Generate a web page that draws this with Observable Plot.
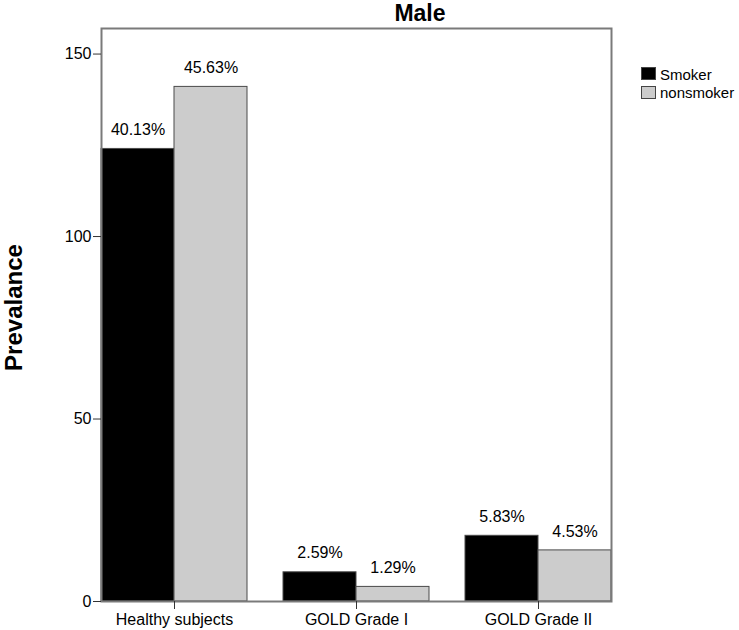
<!DOCTYPE html>
<html>
<head>
<meta charset="utf-8">
<script src="https://cdn.jsdelivr.net/npm/d3@7"></script>
<script src="https://cdn.jsdelivr.net/npm/@observablehq/plot@0.6"></script>
<style>
  html, body { margin: 0; padding: 0; background: #fff; }
  #wrap { position: relative; width: 739px; height: 630px; background: #fff; overflow: hidden;
          font-family: "Liberation Sans", Arial, sans-serif; color: #000; }
  #title { position: absolute; left: 320px; top: 0px; width: 200px; text-align: center;
           font-size: 23px; line-height: normal; font-weight: bold; }
  #ylabel { position: absolute; left: -87px; top: 294px; width: 200px; height: 27px; text-align: center;
            font-size: 24px; line-height: 27px; font-weight: bold; transform: rotate(-90deg); transform-origin: 50% 50%; }
  .sw { position: absolute; left: 641px; width: 15px; height: 13px; box-sizing: border-box; border: 1px solid #444; }
  .lt { position: absolute; left: 660px; font-size: 15px; line-height: 17px; white-space: nowrap; }
  #chart { position: absolute; left: 0; top: 0; }
</style>
</head>
<body>
<div id="wrap">
  <div id="chart"></div>
  <div id="title">Male</div>
  <div id="ylabel">Prevalance</div>
  <div class="sw" style="top:67px;background:#000;"></div>
  <div class="lt" style="top:66px;">Smoker</div>
  <div class="sw" style="top:86px;background:#cccccc;"></div>
  <div class="lt" style="top:84px;">nonsmoker</div>
</div>
<script>
const categories = ["Healthy subjects", "GOLD Grade I", "GOLD Grade II"];
const groups = ["Smoker", "nonsmoker"];
const smoker = [124, 8, 18];
const nonsmoker = [141, 4, 14];
const smokerPct = ["40.13%", "2.59%", "5.83%"];
const nonsmokerPct = ["45.63%", "1.29%", "4.53%"];
const yTicks = [0, 50, 100, 150];

const data = categories.flatMap((c, i) => [
  {category: c, group: groups[0], value: smoker[i], label: smokerPct[i]},
  {category: c, group: groups[1], value: nonsmoker[i], label: nonsmokerPct[i]}
]);

const chart = Plot.plot({
  width: 739,
  height: 630,
  marginLeft: 72,
  marginRight: 100,
  marginTop: 28,
  marginBottom: 29,
  style: {fontFamily: "'Liberation Sans', Arial, sans-serif", fontSize: "16px", color: "#000", background: "transparent", overflow: "visible"},
  fx: {domain: categories, paddingInner: 0.2, paddingOuter: 0.153, label: null},
  x: {domain: groups, padding: 0, axis: null},
  y: {domain: [0, 157], axis: null},
  color: {domain: groups, range: ["#000000", "#cccccc"]},
  marks: [
    Plot.barY(data, {fx: "category", x: "group", y: "value", fill: "group", stroke: "#4a4a4a", strokeWidth: 1}),
    Plot.text(data, {fx: "category", x: "group", y: "value", text: "label", dy: -19, fontSize: 16, fill: "#000"}),
    Plot.frame({facet: "super", stroke: "#7a7a7a", strokeWidth: 2}),
    Plot.axisY({ticks: yTicks, tickSize: 8, tickPadding: 2, label: null, fontSize: 16, stroke: "#333"}),
    Plot.axisFx({anchor: "bottom", tickSize: 8, tickPadding: 4, label: null, fontSize: 16, stroke: "#333"})
  ]
});
document.getElementById("chart").appendChild(chart);
</script>
</body>
</html>
